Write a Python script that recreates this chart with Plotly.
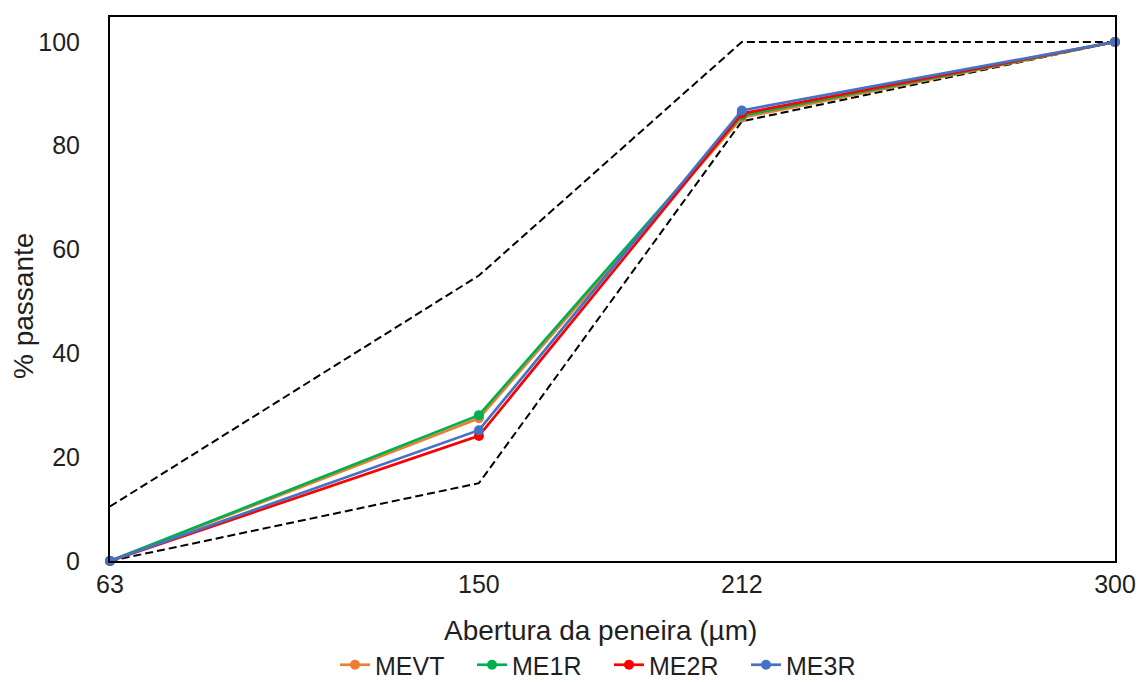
import plotly.graph_objects as go

aberturas = [63, 150, 212, 300]
tick_labels = ["63", "150", "212", "300"]

limite_superior = [10.5, 55, 100, 100]
limite_inferior = [0, 15, 84.7, 100]

series_names = ["MEVT", "ME1R", "ME2R", "ME3R"]
mevt = [0, 27.5, 85.4, 100]
me1r = [0, 28.1, 85.8, 100]
me2r = [0, 24.1, 86.2, 100]
me3r = [0, 25.2, 86.8, 100]
series_values = [mevt, me1r, me2r, me3r]
series_colors = ["#ED7D31", "#00B050", "#FF0000", "#4472C4"]

W, H = 1147, 682
L, R, T, B = 110, 32, 17, 121
pw, ph = W - L - R, H - T - B

fig = go.Figure()

for lim in (limite_superior, limite_inferior):
    fig.add_trace(go.Scatter(
        x=aberturas, y=lim, mode="lines",
        line=dict(color="black", width=2, dash="8px,4px"),
        showlegend=False, hoverinfo="skip", cliponaxis=False,
    ))

for name, vals, col in zip(series_names, series_values, series_colors):
    fig.add_trace(go.Scatter(
        x=aberturas, y=vals, mode="lines+markers", name=name,
        line=dict(color=col, width=2.7),
        marker=dict(color=col, size=10),
        cliponaxis=False,
    ))

font_family = "Liberation Sans, Arial, sans-serif"
txt_color = "#1f1f1f"

fig.update_layout(
    width=W, height=H,
    margin=dict(l=L, r=R, t=T, b=B, autoexpand=False),
    paper_bgcolor="white", plot_bgcolor="white",
    font=dict(family=font_family, size=25, color=txt_color),
    legend=dict(orientation="h", x=(609 - L) / pw, xanchor="center",
                y=-(688 - (T + ph)) / ph, yanchor="bottom",
                font=dict(size=25), tracegroupgap=0,
                entrywidth=92, entrywidthmode="pixels"),
    xaxis=dict(
        range=[63, 300], tickmode="array", tickvals=aberturas, ticktext=tick_labels,
        showgrid=False, zeroline=False, showline=True, linecolor="black", linewidth=2,
        mirror=True, ticks="", ticklabelstandoff=0, automargin=False,
    ),
    yaxis=dict(
        range=[0, 104.8], tickmode="array", tickvals=[0, 20, 40, 60, 80, 100],
        showgrid=False, zeroline=False, showline=True, linecolor="black", linewidth=2,
        mirror=True, ticks="", ticklabelstandoff=23, automargin=False,
    ),
    annotations=[
        dict(text="Abertura da peneira (µm)", xref="paper", yref="paper",
             x=(600 - L) / pw, y=-(630 - (T + ph)) / ph, xanchor="center", yanchor="middle",
             showarrow=False, font=dict(size=28, color=txt_color)),
        dict(text="% passante", xref="paper", yref="paper", textangle=-90,
             x=-(L - 23) / pw, y=1 - (306 - T) / ph, xanchor="center", yanchor="middle",
             showarrow=False, font=dict(size=28, color=txt_color)),
    ],
)

fig.write_html("out.html", config={"displayModeBar": False},
               post_script="document.body.style.margin='0px';")
